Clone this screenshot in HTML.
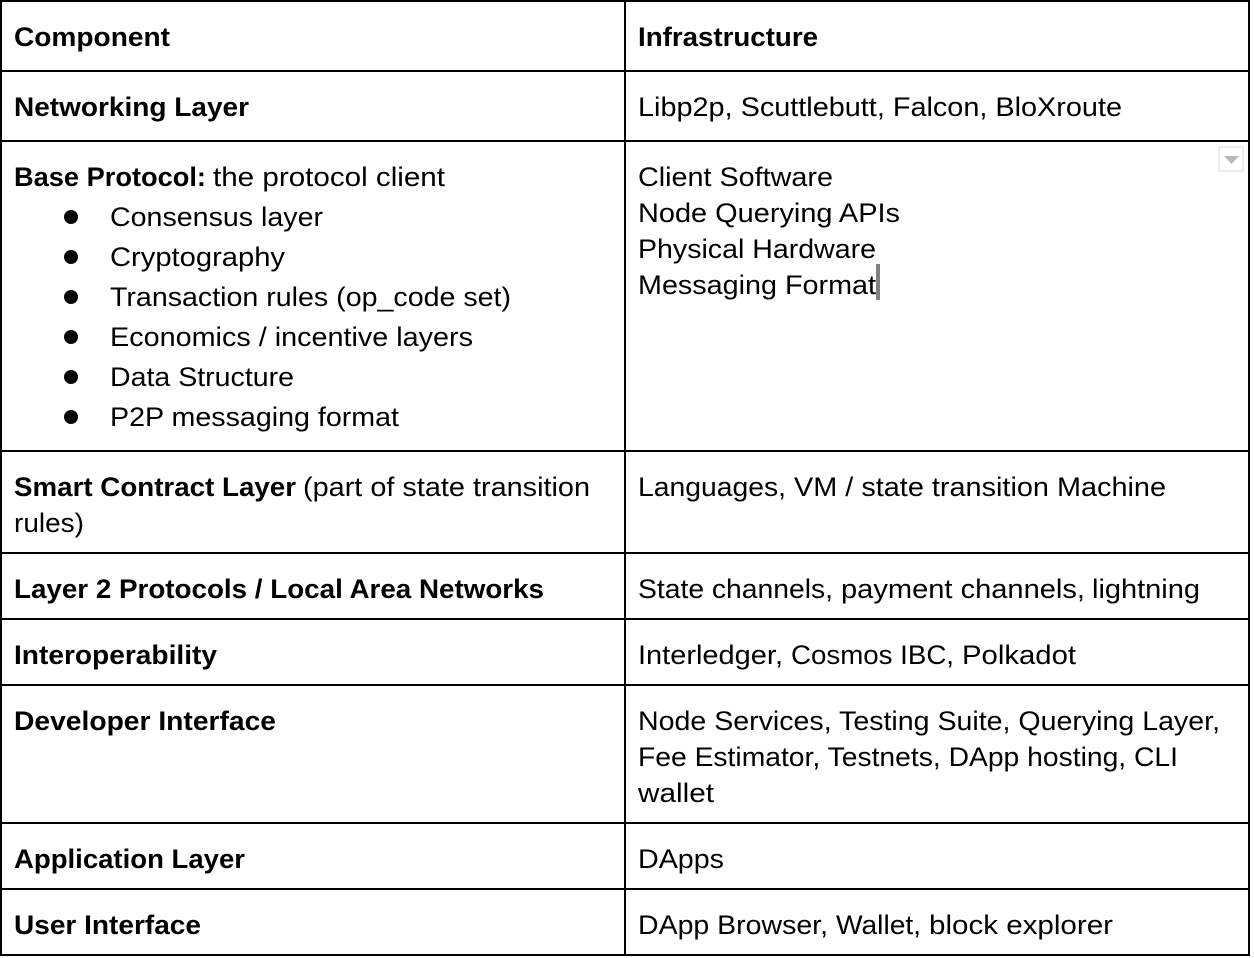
<!DOCTYPE html>
<html lang="en">
<head>
<meta charset="utf-8">
<title>Components and Infrastructure</title>
<style>
html,body{margin:0;padding:0;background:#fff;width:1254px;height:958px;overflow:hidden}
svg{display:block}
text{font-family:"Liberation Sans",sans-serif;font-size:27px;fill:#000}
.b{font-weight:bold}
</style>
</head>
<body>
<svg width="1254" height="958" viewBox="0 0 1254 958" xmlns="http://www.w3.org/2000/svg">
<rect width="1254" height="958" fill="#fff"/>
<g stroke="#000" stroke-width="2" fill="none">
<path d="M0 1H1250M0 71H1250M0 141H1250M0 451H1250M0 553H1250M0 619H1250M0 685H1250M0 823H1250M0 889H1250M0 955H1250"/>
<path d="M1 0V956M625 0V956M1249 0V956"/>
</g>
<rect x="1219" y="147" width="24" height="24" fill="#fff" stroke="#ececec" stroke-width="2"/>
<path d="M1224 156H1239L1231.500 164Z" fill="#b8b8b8"/>
<rect x="876" y="264" width="4" height="36" fill="#808080"/>
<g fill="#000">
<circle cx="71" cy="217" r="7"/><circle cx="71" cy="257" r="7"/><circle cx="71" cy="297" r="7"/>
<circle cx="71" cy="337" r="7"/><circle cx="71" cy="377" r="7"/><circle cx="71" cy="417" r="7"/>
</g>
<g transform="translate(0,1)">
<text class="b" x="14" y="45" textLength="156" lengthAdjust="spacingAndGlyphs">Component</text>
<text class="b" x="638" y="45" textLength="180" lengthAdjust="spacingAndGlyphs">Infrastructure</text>
<text class="b" x="14" y="115" textLength="235" lengthAdjust="spacingAndGlyphs">Networking Layer</text>
<text x="638" y="115" textLength="484" lengthAdjust="spacingAndGlyphs">Libp2p, Scuttlebutt, Falcon, BloXroute</text>
<text class="b" x="14" y="185" textLength="192" lengthAdjust="spacingAndGlyphs">Base Protocol:</text>
<text x="213" y="185" textLength="232" lengthAdjust="spacingAndGlyphs">the protocol client</text>
<text x="110" y="225" textLength="213" lengthAdjust="spacingAndGlyphs">Consensus layer</text>
<text x="110" y="265" textLength="175" lengthAdjust="spacingAndGlyphs">Cryptography</text>
<text x="110" y="305" textLength="401" lengthAdjust="spacingAndGlyphs">Transaction rules (op_code set)</text>
<text x="110" y="345" textLength="363" lengthAdjust="spacingAndGlyphs">Economics / incentive layers</text>
<text x="110" y="385" textLength="184" lengthAdjust="spacingAndGlyphs">Data Structure</text>
<text x="110" y="425" textLength="289" lengthAdjust="spacingAndGlyphs">P2P messaging format</text>
<text x="638" y="185" textLength="195" lengthAdjust="spacingAndGlyphs">Client Software</text>
<text x="638" y="221" textLength="262" lengthAdjust="spacingAndGlyphs">Node Querying APIs</text>
<text x="638" y="257" textLength="238" lengthAdjust="spacingAndGlyphs">Physical Hardware</text>
<text x="638" y="293" textLength="238" lengthAdjust="spacingAndGlyphs">Messaging Format</text>
<text class="b" x="14" y="495" textLength="282" lengthAdjust="spacingAndGlyphs">Smart Contract Layer</text>
<text x="303" y="495" textLength="287" lengthAdjust="spacingAndGlyphs">(part of state transition</text>
<text x="14" y="531" textLength="70" lengthAdjust="spacingAndGlyphs">rules)</text>
<text x="638" y="495" textLength="148" lengthAdjust="spacingAndGlyphs">Languages,</text>
<text x="794" y="495" textLength="372" lengthAdjust="spacingAndGlyphs">VM / state transition Machine</text>
<text class="b" x="14" y="597" textLength="530" lengthAdjust="spacingAndGlyphs">Layer 2 Protocols / Local Area Networks</text>
<text x="638" y="597" textLength="195" lengthAdjust="spacingAndGlyphs">State channels,</text>
<text x="841" y="597" textLength="244" lengthAdjust="spacingAndGlyphs">payment channels,</text>
<text x="1092" y="597" textLength="108" lengthAdjust="spacingAndGlyphs">lightning</text>
<text class="b" x="14" y="663" textLength="203" lengthAdjust="spacingAndGlyphs">Interoperability</text>
<text x="638" y="663" textLength="145" lengthAdjust="spacingAndGlyphs">Interledger,</text>
<text x="791" y="663" textLength="163" lengthAdjust="spacingAndGlyphs">Cosmos IBC,</text>
<text x="962" y="663" textLength="114" lengthAdjust="spacingAndGlyphs">Polkadot</text>
<text class="b" x="14" y="729" textLength="262" lengthAdjust="spacingAndGlyphs">Developer Interface</text>
<text x="638" y="729" textLength="582" lengthAdjust="spacingAndGlyphs">Node Services, Testing Suite, Querying Layer,</text>
<text x="638" y="765" textLength="540" lengthAdjust="spacingAndGlyphs">Fee Estimator, Testnets, DApp hosting, CLI</text>
<text x="638" y="801" textLength="76" lengthAdjust="spacingAndGlyphs">wallet</text>
<text class="b" x="14" y="867" textLength="231" lengthAdjust="spacingAndGlyphs">Application Layer</text>
<text x="638" y="867" textLength="86" lengthAdjust="spacingAndGlyphs">DApps</text>
<text class="b" x="14" y="933" textLength="187" lengthAdjust="spacingAndGlyphs">User Interface</text>
<text x="638" y="933" textLength="190" lengthAdjust="spacingAndGlyphs">DApp Browser,</text>
<text x="836" y="933" textLength="85" lengthAdjust="spacingAndGlyphs">Wallet,</text>
<text x="929" y="933" textLength="184" lengthAdjust="spacingAndGlyphs">block explorer</text>
</g>
</svg>
</body>
</html>
